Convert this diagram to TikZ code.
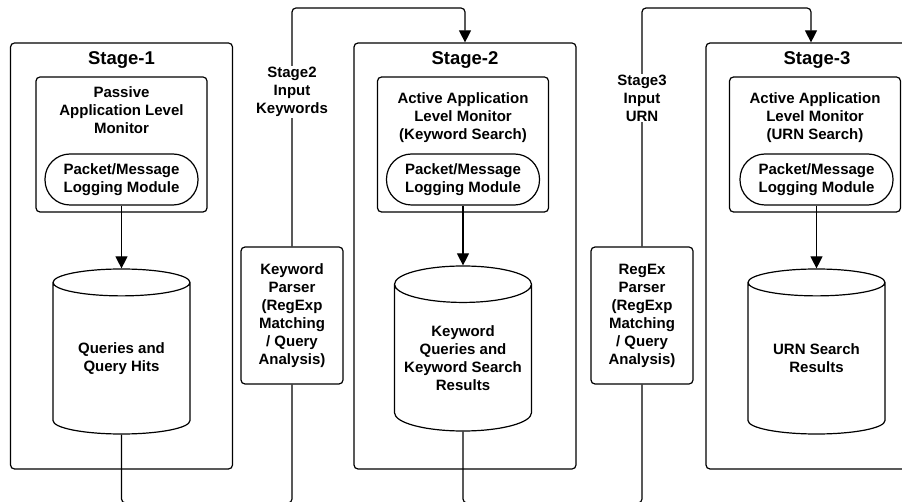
\documentclass[tikz,border=0pt]{standalone}
\usepackage{fontspec}
\setmainfont{Liberation Sans}
\usetikzlibrary{shapes.geometric,arrows.meta,calc}
\tikzset{
	stagebox/.style={draw,rounded corners=4pt,minimum width=222pt,minimum height=426pt},
	monbox/.style={draw,rounded corners=4pt,minimum width=171pt,minimum height=135pt},
	logmod/.style={draw,rounded corners=25pt,minimum width=153pt,minimum height=51pt,align=center,inner sep=0pt},
	store/.style={draw,cylinder,shape border rotate=90,aspect=0.31,minimum width=137pt,minimum height=165pt,align=center,inner sep=0pt,anchor=shape center},
	parser/.style={draw,rounded corners=4pt,minimum width=102pt,minimum height=137pt,align=center,inner sep=0pt},
	txt/.style={align=center,inner sep=0pt},
	lbl/.style={fill=white,align=center,inner sep=1pt},
	title/.style={anchor=base,font=\fontsize{18.5}{22}\selectfont\bfseries},
	flow/.style={rounded corners=4pt},
	arr/.style={-{Triangle[length=12pt,width=12pt]}}
}
\begin{document}
\begin{tikzpicture}[x=1pt,y=-1pt,line width=1.2pt,font=\fontsize{15}{18}\selectfont\bfseries]
	\path[use as bounding box,clip] (0,0) rectangle (902,502);
	% stages
	\node [stagebox] (stage1) at (121.5,256) {};
	\node [stagebox] (stage2) at (465,256) {};
	\node [stagebox] (stage3) at (817,256) {};
	\node [title] (t1) at (121.5,65) {Stage-1};
	\node [title] (t2) at (465,65) {Stage-2};
	\node [title] (t3) at (817,65) {Stage-3};

	\node [monbox] (mon1) at (121.5,144.5) {};
	\node [monbox] (mon2) at (463,144.5) {};
	\node [monbox] (mon3) at (815,144.5) {};
	\node [txt] (m1) at (121.5,110) {Passive\\Application Level\\Monitor};
	\node [txt] (m2) at (463,118) {Active Application\\Level Monitor\\(Keyword Search)};
	\node [txt] (m3) at (815,118) {Active Application\\Level Monitor\\(URN Search)};

	\node [logmod] (log1) at (121.5,179.5) {Packet/Message\\Logging Module};
	\node [logmod] (log2) at (463,179.5) {Packet/Message\\Logging Module};
	\node [logmod] (log3) at (816.5,179.5) {Packet/Message\\Logging Module};

	\node [store] (cyl1) at (121.5,351.5) {Queries and\\Query Hits};
	\node [store] (cyl2) at (463,348.5) {Keyword\\Queries and\\Keyword Search\\Results};
	\node [store] (cyl3) at (816.5,351.5) {URN Search\\Results};

	% parsers
	\node [parser] (kp) at (292,315.5) {Keyword\\Parser\\(RegExp\\Matching\\ / Query\\Analysis)};
	\node [parser] (rp) at (642,315.5) {RegEx\\Parser\\(RegExp\\Matching\\ / Query\\Analysis)};

	\draw [arr] (log1.south) -- (cyl1.north);
	\draw [arr] (log2.south) -- (cyl2.north);
	\draw [arr] (log3.south) -- (cyl3.north);

	\draw [flow] (cyl1.south) -- (cyl1.south |- 0,503) -- (kp.south |- 0,503) -- (kp.south);
	\draw [flow] (cyl2.south) -- (cyl2.south |- 0,503) -- (rp.south |- 0,503) -- (rp.south);
	\draw [flow,arr] (kp.north) -- (kp.north |- 0,8) -- (stage2.north |- 0,8) -- (stage2.north);
	\coordinate (s3in) at ($(stage3.north)+(-6,0)$);
	\draw [flow,arr] (rp.north) -- (rp.north |- 0,8) -- (s3in |- 0,8) -- (s3in);

	\node [lbl] (in2) at (292,92) {Stage2\\Input\\Keywords};
	\node [lbl] (in3) at (642,98) {Stage3\\Input\\URN};
\end{tikzpicture}
\end{document}
